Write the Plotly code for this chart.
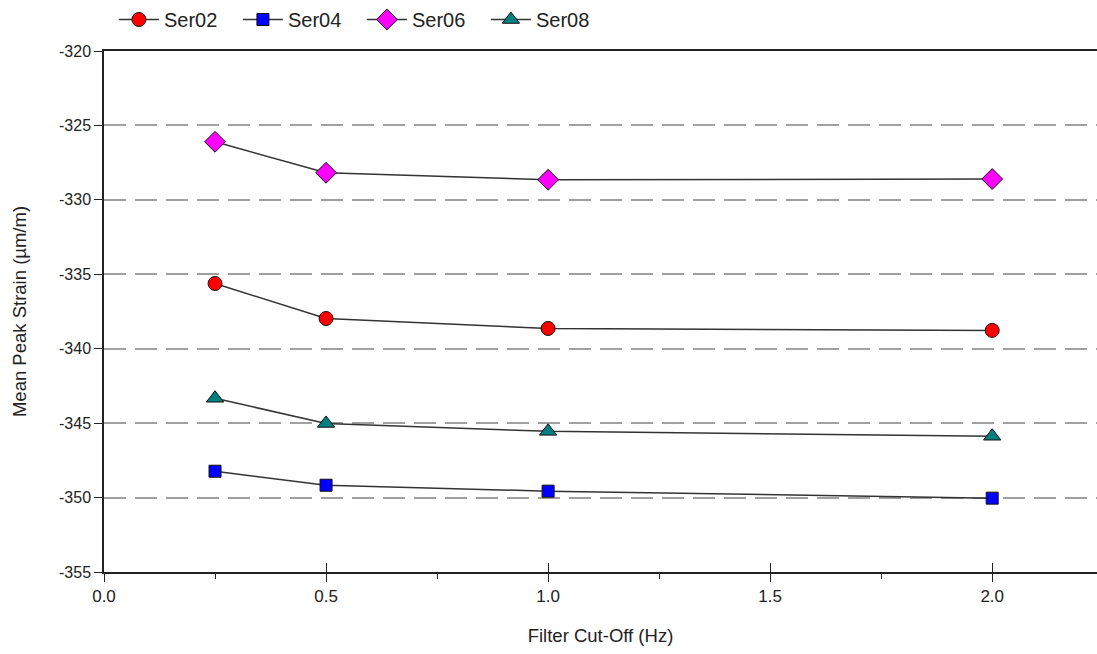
import plotly.graph_objects as go

x_vals = [0.25, 0.5, 1.0, 2.0]
ser02 = [-335.62, -337.97, -338.64, -338.77]
ser04 = [-348.23, -349.17, -349.57, -350.04]
ser06 = [-326.10, -328.18, -328.65, -328.60]
ser08 = [-343.33, -345.02, -345.55, -345.88]

y_ticks = [-320, -325, -330, -335, -340, -345, -350, -355]
y_tick_text = ["-320", "-325", "-330", "-335", "-340", "-345", "-350", "-355"]
x_ticks = [0, 0.5, 1.0, 1.5, 2.0]
x_tick_text = ["0.0", "0.5", "1.0", "1.5", "2.0"]
x_minor = [0.25, 0.75, 1.25, 1.75]

series = [
    ("Ser02", ser02, "circle", "#FF0000", 14),
    ("Ser04", ser04, "square", "#0000FF", 12),
    ("Ser06", ser06, "diamond", "#FF00FF", 16),
    ("Ser08", ser08, "triangle-up", "#008080", 15),
]

fig = go.Figure()
for name, ys, sym, col, sz in series:
    fig.add_trace(go.Scatter(
        x=x_vals, y=ys, name=name, mode="lines+markers",
        line=dict(color="#333333", width=1.5),
        marker=dict(symbol=sym, color=col, size=sz, line=dict(color="#111111", width=1)),
    ))

# invisible trace to anchor an overlay axis carrying inward tick marks
fig.add_trace(go.Scatter(x=[x_vals[0]], y=[ser02[0]], xaxis="x2", mode="markers",
                         marker=dict(opacity=0), showlegend=False, hoverinfo="skip"))

FONT = "Liberation Sans, Arial, sans-serif"
fig.update_layout(
    width=1097, height=654,
    margin=dict(l=104, r=0, t=50, b=82),
    paper_bgcolor="white", plot_bgcolor="white",
    font=dict(family=FONT, color="#222222"),
    showlegend=True,
    legend=dict(orientation="h", x=0.01, y=1.097, xanchor="left", yanchor="top",
                font=dict(size=20, family=FONT), itemwidth=40, tracegroupgap=0,
                entrywidth=69, entrywidthmode="pixels",
                bgcolor="rgba(0,0,0,0)"),
    xaxis=dict(range=[0, 2.236], tickvals=x_ticks, ticktext=x_tick_text,
               ticks="outside", ticklen=8, tickwidth=1.2, tickcolor="#222222",
               minor=dict(tickvals=x_minor, ticks="outside", ticklen=5,
                          tickwidth=1, tickcolor="#222222", showgrid=False),
               showline=True, linecolor="#222222", linewidth=1.5, mirror=True,
               showgrid=False, zeroline=False,
               tickfont=dict(size=17, family=FONT),
               title=dict(text="Filter Cut-Off (Hz)", font=dict(size=18.5, family=FONT), standoff=24)),
    xaxis2=dict(range=[0, 2.236], overlaying="x", anchor="y", side="bottom",
                tickvals=x_ticks, ticks="inside", ticklen=9,
                tickwidth=1.2, tickcolor="#222222", showticklabels=False,
                showgrid=False, zeroline=False, showline=False),
    yaxis=dict(range=[-355, -320], tickvals=y_ticks, ticktext=y_tick_text,
               ticks="outside", ticklen=8, tickwidth=1.2, tickcolor="#222222",
               showline=True, linecolor="#222222", linewidth=1.5,
               showgrid=True, gridcolor="#a0a0a0", gridwidth=1.5, griddash="22px,9px",
               zeroline=False,
               tickfont=dict(size=16, family=FONT),
               title=dict(text="Mean Peak Strain (µm/m)", font=dict(size=18.5, family=FONT), standoff=28)),
)

fig.write_html("out.html")
